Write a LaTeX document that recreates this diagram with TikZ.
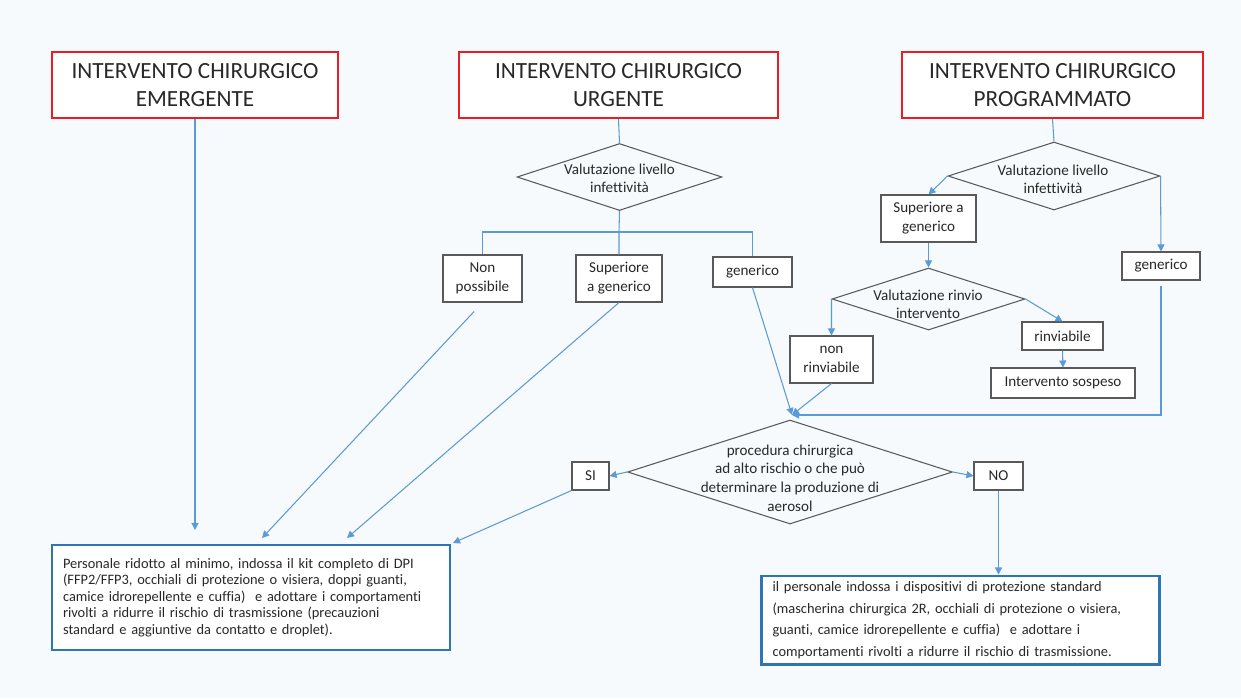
\documentclass[tikz,border=0pt]{standalone}
\usepackage{fontspec}
\setmainfont{Carlito}[Ligatures=NoCommon]
\usetikzlibrary{shapes.geometric,arrows.meta}

\definecolor{linkblue}{RGB}{91,155,213}
\definecolor{boxblue}{RGB}{46,117,182}
\definecolor{headred}{RGB}{235,28,36}
\definecolor{boxgray}{RGB}{89,89,89}
\definecolor{txtgray}{RGB}{40,40,40}
\definecolor{bgpaper}{RGB}{246,250,252}

\begin{document}
\begin{tikzpicture}[x=0.02cm, y=-0.02cm,
  head/.style={draw=headred, line width=1.1pt, fill=white, minimum width=#1,
    minimum height=1.32cm, align=center, text=txtgray, font=\fontsize{13.2}{16}\selectfont},
  opt/.style={draw=boxgray, line width=0.6pt, fill=white, minimum width=#1,
    align=center, inner sep=1pt, text=txtgray, font=\fontsize{8.6}{10.8}\selectfont},
  decision/.style={diamond, draw=boxgray, line width=0.6pt, inner sep=0pt, minimum width=#1},
  dtext/.style={align=center, text=txtgray, font=\fontsize{8.6}{10.3}\selectfont},
  result/.style={draw=boxblue, line width=1.2pt, fill=white, text width=7.52cm,
    inner xsep=0.22cm, align=left, text=txtgray},
  link/.style={draw=linkblue, line width=0.6pt},
  >={Triangle[length=4pt,width=4pt]}
]
\useasboundingbox (0,0) rectangle (1241,698);
\fill[bgpaper] (0,0) rectangle (1241,698);

% Header boxes
\node[head=5.72cm] (h1) at (195,85) {INTERVENTO CHIRURGICO\\EMERGENTE};
\node[head=6.38cm] (h2) at (618.5,85) {INTERVENTO CHIRURGICO\\URGENTE};
\node[head=6.02cm] (h3) at (1052.5,85) {INTERVENTO CHIRURGICO\\PROGRAMMATO};

% Urgent branch
\node[decision=4.1cm, minimum height=1.34cm] (dv1) at (619.5,177) {};
\node[dtext] (dv1t) at (619.5,178) {Valutazione livello\\infettività};
\node[opt=1.58cm, minimum height=0.94cm] (np) at (482.5,278.5) {Non\\possibile};
\node[opt=1.72cm, minimum height=0.94cm] (sg) at (619,278.5) {Superiore\\a generico};
\node[opt=1.58cm, minimum height=0.6cm] (g1) at (752.5,272) {generico};

% Programmed branch
\node[decision=4.24cm, minimum height=1.36cm] (dv2) at (1054,176) {};
\node[dtext] (dv2t) at (1053,179) {Valutazione livello\\infettività};
\node[opt=1.9cm, minimum height=0.94cm] (sa) at (928.5,218.5) {Superiore a\\generico};
\node[opt=1.56cm, minimum height=0.56cm] (g2) at (1161,266) {generico};
\node[decision=3.86cm, minimum height=1.24cm] (dr) at (928.5,299) {};
\node[dtext] (drt) at (928,304) {Valutazione rinvio\\intervento};
\node[opt=1.66cm, minimum height=0.94cm] (nr) at (831.5,359.5) {non\\rinviabile};
\node[opt=1.62cm, minimum height=0.56cm] (rv) at (1062.5,336) {rinviabile};
\node[opt=2.88cm, minimum height=0.6cm] (is) at (1063,383) {Intervento sospeso};

% Aerosol decision
\node[decision=6.5cm, minimum height=2.08cm] (dp) at (790,472) {};
\node[dtext, font=\fontsize{8.6}{10.6}\selectfont] (dpt) at (790,478) {procedura chirurgica\\ad alto rischio o che può\\determinare la produzione di\\aerosol};
\node[opt=0.74cm, minimum height=0.56cm] (si) at (590.5,476) {SI};
\node[opt=0.98cm, minimum height=0.56cm] (no) at (998.5,476) {NO};

% Outcome boxes
\node[result, minimum height=2.1cm, font=\fontsize{8.2}{9.4}\selectfont] (lb) at (251,597.5) {Personale ridotto al minimo, indossa il kit completo di DPI\\(FFP2/FFP3, occhiali di protezione o visiera, doppi guanti,\\camice idrorepellente e cuffia)~ e adottare i comportamenti\\rivolti a ridurre il rischio di trasmissione (precauzioni\\standard e aggiuntive da contatto e droplet).};
\node[result, minimum height=1.72cm, font=\fontsize{8.2}{12.3}\selectfont] (rb) at (960.5,620) {il personale indossa i dispositivi di protezione standard\\(mascherina chirurgica 2R, occhiali di protezione o visiera,\\guanti, camice idrorepellente e cuffia)~ e adottare i\\comportamenti rivolti a ridurre il rischio di trasmissione.};

% Connectors
\coordinate (br1) at (619,232);
\coordinate (mrg) at (792,415);
\coordinate (t1) at (195,530);
\coordinate (t2) at (262,538);
\coordinate (t3) at (347,538);
\coordinate (t4) at (453,543);

\draw[link] (h2.south) -- (dv1.north);
\draw[link] (dv1.south) -- (br1) -- (sg.north);
\draw[link] (np.north) |- (br1) -| (g1.north);
\draw[link] (h3.south) -- (dv2.north);
\draw[link,->] (dv2.west) -- (sa.north);
\draw[link,->] (dv2.east) -- (g2.north);
\draw[link,->] (sa.south) -- (dr.north);
\draw[link,->] (dr.west) -- (nr.north);
\draw[link,->] (dr.east) -- (rv.north);
\draw[link,->] (rv.south) -- (is.north);
\draw[link,->] (g1.south) -- (mrg);
\draw[link,->] (nr.south) -- (mrg);
\draw[link,->, shorten <=3pt] (g2.south) |- (mrg);
\draw[link,->] (dp.west) -- (si.east);
\draw[link,->] (dp.east) -- (no.west);
\draw[link,->] (no.south) -- (no.south |- rb.north);

% Into the left outcome box
\draw[link,->] (h1.south) -- (t1);
\draw[link,->, shorten <=7pt] (np.south) -- (t2);
\draw[link,->] (sg.south) -- (t3);
\draw[link,->] (si.south west) -- (t4);

\end{tikzpicture}
\end{document}
